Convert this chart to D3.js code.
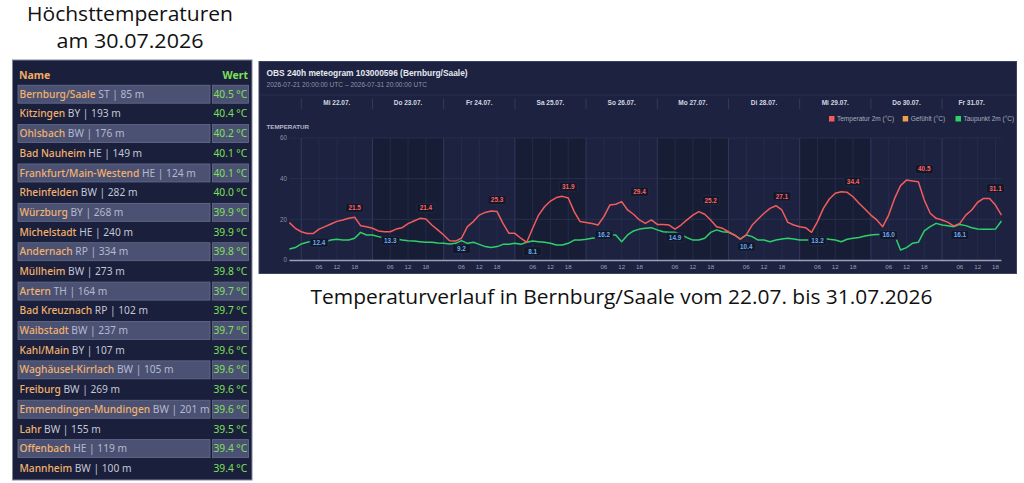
<!DOCTYPE html>
<html><head><meta charset="utf-8">
<script src="https://cdn.jsdelivr.net/npm/d3@7"></script>
<style>html,body{margin:0;padding:0;background:#fff;}svg{display:block;}</style>
</head><body>
<svg id="c" width="1024" height="483"></svg>
<script>
// ---------- table data ----------
const stationNames = ["Bernburg/Saale","Kitzingen","Ohlsbach","Bad Nauheim","Frankfurt/Main-Westend","Rheinfelden","Würzburg","Michelstadt","Andernach","Müllheim","Artern","Bad Kreuznach","Waibstadt","Kahl/Main","Waghäusel-Kirrlach","Freiburg","Emmendingen-Mundingen","Lahr","Offenbach","Mannheim"];
const stationStates = ["ST","BY","BW","HE","HE","BW","BY","HE","RP","BW","TH","RP","BW","BY","BW","BW","BW","BW","HE","BW"];
const stationAltitudes = [85,193,176,149,124,282,268,240,334,273,164,102,237,107,105,269,201,155,119,100];
const stationValues = [40.5,40.4,40.2,40.1,40.1,40.0,39.9,39.9,39.8,39.8,39.7,39.7,39.7,39.6,39.6,39.6,39.6,39.5,39.4,39.4];

// ---------- meteogram data (2-hourly, from 2026-07-21 20:00 UTC) ----------
const startTime = "2026-07-21T20:00:00Z";
const stepHours = 2;
const tempVals = [
18.4,15.6,13.9,13.0,13.0,15.2,16.4,17.7,19.0,19.7,
20.5,21.0,16.9,16.4,15.6,14.3,13.9,13.9,15.2,15.9,
17.9,19.2,20.5,20.2,17.2,14.8,12.3,9.5,9.3,10.7,
16.4,18.9,22.1,23.4,24.1,23.8,18.0,13.1,13.1,10.7,
8.7,15.6,22.1,26.2,29.0,30.7,31.3,30.5,23.8,18.9,
18.4,17.9,17.2,21.3,27.0,27.4,28.7,24.6,22.5,19.7,
18.0,19.7,17.5,17.5,17.2,15.2,17.2,19.7,22.1,23.8,
22.5,19.7,16.4,15.6,13.9,12.3,10.3,12.3,17.2,20.2,
23.0,25.4,26.7,24.6,18.5,17.2,16.4,15.9,13.6,18.9,
25.4,30.0,32.8,33.6,33.3,31.1,27.9,25.1,22.1,19.7,
16.4,22.1,30.3,36.6,39.3,38.9,38.5,29.5,23.0,20.5,
19.7,18.5,16.7,18.0,22.1,24.6,28.4,30.3,30.3,27.0,
22.1];
const dewVals = [
5.4,6.1,7.9,8.7,9.3,9.8,9.0,9.8,10.2,9.8,
9.8,10.7,13.6,12.3,12.3,11.5,10.7,10.7,10.3,9.8,
9.5,9.3,9.0,8.7,8.7,8.4,8.2,7.9,8.2,9.5,
8.2,8.7,7.7,6.6,6.1,6.6,7.7,7.7,8.2,7.7,
8.7,9.3,9.0,8.7,8.2,7.4,7.4,8.2,9.8,9.8,
10.2,10.7,11.1,11.8,12.3,12.3,9.0,12.3,14.3,15.2,
15.6,15.9,14.8,13.9,13.6,13.6,12.6,11.0,9.8,9.8,
10.7,13.6,14.8,13.9,13.6,12.3,10.3,12.3,11.5,9.8,
9.8,9.0,9.8,10.3,10.7,10.3,9.8,9.8,9.8,11.0,
10.7,10.2,9.8,9.0,10.2,10.7,11.1,11.8,12.3,12.6,
12.6,12.3,12.3,4.9,6.1,8.2,8.7,14.3,16.4,18.0,
17.2,16.9,16.4,17.5,16.9,15.9,15.2,15.1,15.1,15.2,
19.2];
const maxLabelHours = [22,46,70,94,118,142,166,190,214,238];
const maxLabelValues = [21.5,21.4,25.3,31.9,29.4,25.2,27.1,34.4,40.5,31.1];
const minLabelHours = [10,34,58,82,106,130,154,178,202,226];
const minLabelValues = [12.4,13.3,9.2,8.1,16.2,14.9,10.4,13.2,16.0,16.1];
const dayLabels = ["Mi 22.07.","Do 23.07.","Fr 24.07.","Sa 25.07.","So 26.07.","Mo 27.07.","Di 28.07.","Mi 29.07.","Do 30.07.","Fr 31.07."];
const darkDays = [1,3,5,7];
const yTicks = [0,20,40,60];
const legendItems = ["Temperatur 2m (°C)","Gefühlt (°C)","Taupunkt 2m (°C)"];
const legendColors = ["#f25c5c","#f0a04b","#2fd06a"];

const svg = d3.select("#c");

// ================= LEFT: titles + table =================
svg.append("text").attr("x",130).attr("y",21).attr("text-anchor","middle")
  .attr("font-family","'Open Sans',sans-serif").attr("font-size",20).attr("fill","#111")
  .attr("textLength",206).attr("lengthAdjust","spacingAndGlyphs").text("Höchsttemperaturen");
svg.append("text").attr("x",130).attr("y",48).attr("text-anchor","middle")
  .attr("font-family","'Open Sans',sans-serif").attr("font-size",20).attr("fill","#111")
  .attr("textLength",147).attr("lengthAdjust","spacingAndGlyphs").text("am 30.07.2026");

const tbl = svg.append("g");
tbl.append("rect").attr("x",12.5).attr("y",60).attr("width",239.5).attr("height",420)
  .attr("fill","#1a1f3b").attr("stroke","#7e869e").attr("stroke-width",1);
const tf = "'Noto Sans',sans-serif";
tbl.append("text").attr("x",19).attr("y",78.5).attr("font-family",tf).attr("font-size",10.5)
  .attr("font-weight",700).attr("fill","#f2ac60").text("Name");
tbl.append("text").attr("x",248).attr("y",78.5).attr("text-anchor","end").attr("font-family",tf)
  .attr("font-size",10.5).attr("font-weight",700).attr("fill","#7fe05a").text("Wert");

const rowY = d3.scaleLinear().domain([0, stationNames.length-1]).range([94.2, 468.3]);
const rows = tbl.selectAll("g.row").data(stationNames.map((n,i)=>({n,i,s:stationStates[i],a:stationAltitudes[i],v:stationValues[i]})))
  .join("g").attr("class","row").attr("transform",d=>`translate(0,${rowY(d.i)})`);
rows.filter(d=>d.i%2===0).append("rect").attr("x",18).attr("y",-9).attr("width",192).attr("height",18)
  .attr("fill","#4b5172").attr("stroke","#666d8c").attr("stroke-width",0.8);
rows.filter(d=>d.i%2===0).append("rect").attr("x",212.5).attr("y",-9).attr("width",36).attr("height",18)
  .attr("fill","#4b5172").attr("stroke","#666d8c").attr("stroke-width",0.8);
const rt = rows.append("text").attr("x",19.5).attr("y",3.6).attr("font-family",tf).attr("font-size",10.2);
rt.append("tspan").attr("fill","#f2b26e").attr("font-weight",500).text(d=>d.n);
rt.append("tspan").attr("fill",d=>d.i%2===0?"#b4b9cf":"#c4c7d6").text(d=>` ${d.s} | ${d.a} m`);
rows.append("text").attr("x",213.5).attr("y",3.6).attr("font-family",tf).attr("font-size",10.2)
  .attr("fill","#7fe05a").text(d=>`${d.v.toFixed(1)} °C`);

// ================= RIGHT: meteogram =================
const t0 = new Date(startTime);
const tAt = h => new Date(t0.getTime() + h*3600e3);
const tEnd = tAt(240);
const x = d3.scaleUtc().domain([t0, tEnd]).range([289.4, 1001.4]);
const y = d3.scaleLinear().domain([0,60]).range([260,138]);
const mf = "'Liberation Sans',Arial,sans-serif";

const mg = svg.append("g");
mg.append("rect").attr("x",259).attr("y",61.5).attr("width",757.5).attr("height",212)
  .attr("fill","#1c2240").attr("stroke","#3c4362").attr("stroke-width",1);
mg.append("text").attr("x",266.5).attr("y",76).attr("font-family",mf)
  .attr("font-size",8.4).attr("font-weight",700).attr("fill","#e6e8f0")
  .text("OBS 240h meteogram 103000596 (Bernburg/Saale)");
mg.append("text").attr("x",266.5).attr("y",87).attr("font-family",mf)
  .attr("font-size",6.6).attr("fill","#8e94aa")
  .text("2026-07-21 20:00:00 UTC – 2026-07-31 20:00:00 UTC");
mg.append("line").attr("x1",259.5).attr("x2",1016).attr("y1",95).attr("y2",95).attr("stroke","#2d3454").attr("stroke-width",0.8);

// day bands
const days = d3.utcDay.range(d3.utcDay.ceil(t0), tEnd);
days.forEach((d,i)=>{
  const x0 = x(d), x1 = Math.min(x(d3.utcDay.offset(d,1)), x(tEnd));
  if (darkDays.includes(i)) mg.append("rect").attr("x",x0).attr("y",y(60)).attr("width",x1-x0).attr("height",y(0)-y(60)).attr("fill","#181d36");
});
// grid
const hourTicks = d3.utcHour.every(6).range(t0, tEnd).filter(d=>d.getUTCHours()!==0);
mg.selectAll("line.hg").data(hourTicks).join("line").attr("class","hg")
  .attr("x1",d=>x(d)).attr("x2",d=>x(d)).attr("y1",y(60)).attr("y2",y(0)).attr("stroke","#283050").attr("stroke-width",0.7);
mg.selectAll("line.dg").data(days).join("line").attr("class","dg")
  .attr("x1",d=>x(d)).attr("x2",d=>x(d)).attr("y1",y(60)).attr("y2",y(0)).attr("stroke","#343c5c").attr("stroke-width",0.9);
mg.selectAll("line.yg").data(yTicks.filter(v=>v>0)).join("line").attr("class","yg")
  .attr("x1",289.4).attr("x2",1001.4).attr("y1",d=>y(d)).attr("y2",d=>y(d)).attr("stroke","#2b3352").attr("stroke-width",0.8);
mg.selectAll("text.yt").data(yTicks).join("text").attr("class","yt")
  .attr("x",287).attr("y",d=>y(d)+2.2).attr("text-anchor","end").attr("font-family",mf)
  .attr("font-size",6.3).attr("fill","#8a90a6").text(d=>d);

// day header
mg.selectAll("line.ds").data(days).join("line").attr("class","ds")
  .attr("x1",d=>x(d)).attr("x2",d=>x(d)).attr("y1",98.5).attr("y2",109).attr("stroke","#3a4262").attr("stroke-width",0.8);
mg.selectAll("text.dl").data(days).join("text").attr("class","dl")
  .attr("x",d=>(x(d)+Math.min(x(d3.utcDay.offset(d,1)),x(tEnd)))/2).attr("y",105)
  .attr("text-anchor","middle").attr("font-family",mf)
  .attr("font-size",6.5).attr("font-weight",700).attr("fill","#d4d7e2").text((d,i)=>dayLabels[i]);
mg.append("text").attr("x",266.5).attr("y",128.8).attr("font-family",mf)
  .attr("font-size",6.2).attr("font-weight",700).attr("fill","#b4b8c8").text("TEMPERATUR");

// legend
const lg = mg.selectAll("g.lg").data(legendItems).join("g").attr("class","lg")
  .attr("transform",(d,i)=>`translate(${[829,902.7,955.5][i]},116)`);
lg.append("rect").attr("width",5.5).attr("height",5.5).attr("fill",(d,i)=>legendColors[i]);
lg.append("text").attr("x",8).attr("y",5).attr("font-family",mf)
  .attr("font-size",6.5).attr("fill","#a8adbf").text(d=>d);

// x axis
mg.append("line").attr("x1",289.4).attr("x2",1001.4).attr("y1",y(0)+0.5).attr("y2",y(0)+0.5)
  .attr("stroke","#9aa0b6").attr("stroke-width",1.6);
mg.selectAll("text.xt").data(hourTicks).join("text").attr("class","xt")
  .attr("x",d=>x(d)).attr("y",268.8).attr("text-anchor","middle").attr("font-family",mf)
  .attr("font-size",6.2).attr("fill","#9aa0b4").text(d=>d3.utcFormat("%H")(d));

// lines
const line = d3.line().x(d=>x(d.t)).y(d=>y(d.v));
const tempData = tempVals.map((v,i)=>({t:tAt(i*stepHours),v}));
const dewData = dewVals.map((v,i)=>({t:tAt(i*stepHours),v}));
mg.append("path").datum(dewData).attr("d",line).attr("fill","none").attr("stroke","#2fd06a").attr("stroke-width",1.5).attr("stroke-linejoin","round");
mg.append("path").datum(tempData).attr("d",line).attr("fill","none").attr("stroke","#f25c5c").attr("stroke-width",1.5).attr("stroke-linejoin","round");

// labels
function addLabels(hours, vals, color, dy){
  const g = mg.selectAll(null).data(hours.map((h,i)=>({h,v:vals[i]}))).join("g")
    .attr("transform",d=>`translate(${x(tAt(d.h))},${y(d.v)+dy})`);
  g.append("rect").attr("x",-9).attr("y",-4.5).attr("width",18).attr("height",9).attr("rx",1.8)
    .attr("fill","#121729").attr("stroke","#2a3150").attr("stroke-width",0.6);
  g.append("text").attr("y",2.3).attr("text-anchor","middle").attr("font-family",mf)
    .attr("font-size",6.4).attr("font-weight",700).attr("fill",color).text(d=>d.v.toFixed(1));
}
addLabels(maxLabelHours, maxLabelValues, "#ff6464", -8.5);
addLabels(minLabelHours, minLabelValues, "#6aaaf0", 7.7);

// caption
svg.append("text").attr("x",621.5).attr("y",304).attr("text-anchor","middle")
  .attr("font-family","'Open Sans',sans-serif").attr("font-size",20).attr("fill","#111")
  .attr("textLength",622).attr("lengthAdjust","spacingAndGlyphs")
  .text("Temperaturverlauf in Bernburg/Saale vom 22.07. bis 31.07.2026");
</script>
</body></html>
